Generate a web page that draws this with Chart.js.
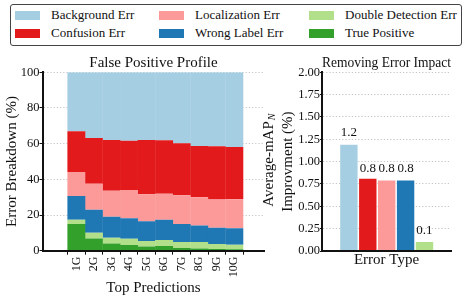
<!DOCTYPE html>
<html>
<head>
<meta charset="utf-8">
<script src="https://cdn.jsdelivr.net/npm/chart.js@4.4.1/dist/chart.umd.min.js"></script>
<style>
  html, body { margin: 0; padding: 0; background: #fff; }
  body { width: 467px; height: 302px; position: relative; overflow: hidden; font-family: "Liberation Serif", serif; }
  #legendBox { position: absolute; left: 9.5px; top: 4px; width: 452px; height: 41.5px; border: 1px solid #444; border-radius: 3px; box-sizing: border-box; }
  .swatch { position: absolute; width: 25px; height: 9px; }
  .legText { position: absolute; font-size: 13px; line-height: 14px; color: #111; white-space: nowrap; font-family: "Liberation Serif", serif; }
  #fpWrap { position: absolute; left: 0; top: 50px; width: 266px; height: 252px; }
  #impactWrap { position: absolute; left: 262px; top: 50px; width: 205px; height: 252px; }
</style>
</head>
<body>
<div id="legendBox"></div>
<div id="legendItems"></div>
<div id="fpWrap"><canvas id="fpChart"></canvas></div>
<div id="impactWrap"><canvas id="impactChart"></canvas></div>
<script>
// top-k predictions (x axis of the profile chart)
const topLabels = ['1G', '2G', '3G', '4G', '5G', '6G', '7G', '8G', '9G', '10G'];

// false positive profile, % of detections per error type
const truePositive    = [15.0, 6.8, 4.1, 3.2, 2.3, 2.6, 1.5, 1.3, 0.9, 0.8];
const doubleDetection = [2.3, 3.3, 3.2, 3.5, 3.1, 3.4, 3.4, 3.6, 2.9, 2.6];
const wrongLabel      = [13.3, 12.8, 11.7, 11.5, 11.1, 11.3, 10.1, 9.2, 9.1, 9.2];
const localization    = [13.5, 14.6, 14.6, 15.8, 15.2, 14.6, 16.1, 15.9, 15.8, 16.3];
const confusion       = [22.8, 25.7, 28.5, 27.7, 30.4, 30.0, 29.1, 28.7, 29.8, 29.2];
const background      = [33.1, 36.8, 37.9, 38.3, 37.9, 38.1, 39.8, 41.3, 41.5, 41.9];

// removing error impact (average-mAP_N improvement, %)
const errorTypes  = ['Background Err', 'Confusion Err', 'Localization Err', 'Wrong Label Err', 'Double Detection Err'];
const improvement = [1.19, 0.81, 0.79, 0.79, 0.10];

const colors = {
    'Background Err': '#a6cee3',
    'Confusion Err': '#e31a1c',
    'Localization Err': '#fb9a99',
    'Wrong Label Err': '#1f78b4',
    'Double Detection Err': '#b2df8a',
    'True Positive': '#33a02c'
};

const profile = {
    'True Positive': truePositive,
    'Double Detection Err': doubleDetection,
    'Wrong Label Err': wrongLabel,
    'Localization Err': localization,
    'Confusion Err': confusion,
    'Background Err': background
};
const stackOrder = ['True Positive', 'Double Detection Err', 'Wrong Label Err', 'Localization Err', 'Confusion Err', 'Background Err'];
const legendOrder = ['Background Err', 'Confusion Err', 'Localization Err', 'Wrong Label Err', 'Double Detection Err', 'True Positive'];

const serif = '"Liberation Serif", "Times New Roman", serif';
const ink = '#111';
Chart.defaults.font.family = serif;
Chart.defaults.color = ink;

// legend (3 columns x 2 rows, filled column by column)
const legCols = [15, 159, 309];
const legRows = [15, 33];
const legItems = document.getElementById('legendItems');
legendOrder.forEach((name, i) => {
    const col = Math.floor(i / 2), row = i % 2;
    const sw = document.createElement('div');
    sw.className = 'swatch';
    sw.style.left = legCols[col] + 'px';
    sw.style.top = (legRows[row] - 4.5) + 'px';
    sw.style.background = colors[name];
    legItems.appendChild(sw);
    const tx = document.createElement('div');
    tx.className = 'legText';
    tx.style.left = (legCols[col] + 36) + 'px';
    tx.style.top = (legRows[row] - 7) + 'px';
    tx.textContent = name;
    legItems.appendChild(tx);
});

const gridDots = { color: '#b5b5b5', dash: [1.2, 2] };

// Stacked profile
new Chart(document.getElementById('fpChart'), {
    type: 'bar',
    data: {
        datasets: stackOrder.map(name => ({
            label: name,
            data: profile[name].map((v, i) => ({ x: i + 1, y: v })),
            backgroundColor: colors[name],
            borderWidth: 0,
            barPercentage: 1.02,
            categoryPercentage: 1
        }))
    },
    options: {
        animation: false,
        responsive: true,
        maintainAspectRatio: false,
        layout: { padding: { left: 0, right: 2, top: 0, bottom: 0 } },
        plugins: {
            legend: { display: false },
            tooltip: { enabled: false },
            title: {
                display: true,
                text: 'False Positive Profile',
                fullSize: false,
                color: ink,
                font: { size: 15, weight: 'normal' },
                padding: { top: 4.3, bottom: 0 }
            }
        },
        scales: {
            x: {
                type: 'linear',
                stacked: true,
                min: -0.27,
                max: 11.06,
                afterBuildTicks: s => { s.ticks = topLabels.map((_, i) => ({ value: i + 1 })); },
                afterFit: s => { s.height = 51.3; },
                ticks: {
                    autoSkip: false,
                    minRotation: 90,
                    maxRotation: 90,
                    padding: 2,
                    font: { size: 12 },
                    callback: v => topLabels[v - 1]
                },
                grid: { drawOnChartArea: false, tickLength: 4, tickColor: ink, tickWidth: 1 },
                border: { color: ink, width: 2, z: 1 },
                title: {
                    display: true,
                    text: 'Top Predictions',
                    font: { size: 15 },
                    padding: { top: 0, bottom: 5 }
                }
            },
            y: {
                stacked: true,
                min: 0,
                max: 100,
                afterFit: s => { s.width = 43; },
                ticks: { stepSize: 10, padding: 0, font: { size: 12.5 } },
                grid: { color: gridDots.color, lineWidth: 0.8, tickLength: 3.5, tickColor: ink, tickWidth: 1 },
                border: { color: ink, width: 2, dash: gridDots.dash, z: 1 },
                title: {
                    display: true,
                    text: 'Error Breakdown (%)',
                    font: { size: 15 },
                    padding: { top: 3, bottom: 0 }
                }
            }
        }
    }
});

// value labels above the impact bars
const valueLabels = {
    id: 'valueLabels',
    afterDatasetsDraw(chart) {
        const ctx = chart.ctx;
        const meta = chart.getDatasetMeta(0);
        const yScale = chart.scales.y;
        ctx.save();
        ctx.font = '13px ' + serif;
        ctx.fillStyle = ink;
        ctx.textAlign = 'center';
        ctx.textBaseline = 'alphabetic';
        meta.data.forEach((bar, i) => {
            const txt = improvement[i].toFixed(1);
            ctx.fillText(txt, bar.x, yScale.getPixelForValue(Number(txt)) - 8);
        });
        ctx.restore();
    }
};

// two-line rotated y title with subscript N
const impactYTitle = {
    id: 'impactYTitle',
    afterDraw(chart) {
        const ctx = chart.ctx;
        const cy = (chart.chartArea.top + chart.chartArea.bottom) / 2;
        const main = 'Average-mAP';
        ctx.save();
        ctx.fillStyle = ink;
        ctx.textBaseline = 'middle';
        ctx.textAlign = 'left';
        ctx.translate(7, cy - 1);
        ctx.rotate(-Math.PI / 2);
        ctx.font = '15px ' + serif;
        const w1 = ctx.measureText(main).width;
        ctx.font = 'italic 10px ' + serif;
        const w2 = ctx.measureText('N').width;
        const x0 = -(w1 + w2) / 2;
        ctx.font = '15px ' + serif;
        ctx.fillText(main, x0, 0);
        ctx.font = 'italic 10px ' + serif;
        ctx.fillText('N', x0 + w1 + 1, 3);
        ctx.restore();

        ctx.save();
        ctx.fillStyle = ink;
        ctx.textBaseline = 'middle';
        ctx.textAlign = 'center';
        ctx.translate(26, cy);
        ctx.rotate(-Math.PI / 2);
        ctx.font = '15px ' + serif;
        ctx.fillText('Improvment (%)', 0, 0);
        ctx.restore();
    }
};

// Removing error impact
new Chart(document.getElementById('impactChart'), {
    type: 'bar',
    data: {
        datasets: [{
            label: 'Improvement',
            data: improvement.map((v, i) => ({ x: i + 1, y: v })),
            backgroundColor: errorTypes.map(n => colors[n]),
            borderWidth: 0,
            barPercentage: 0.92,
            categoryPercentage: 1
        }]
    },
    options: {
        animation: false,
        responsive: true,
        maintainAspectRatio: false,
        layout: { padding: { left: 0, right: 16, top: 0, bottom: 0 } },
        plugins: {
            legend: { display: false },
            tooltip: { enabled: false },
            title: {
                display: true,
                text: 'Removing Error Impact',
                fullSize: false,
                color: ink,
                font: { size: 15, weight: 'normal' },
                padding: { top: 4.3, bottom: 0 }
            }
        },
        scales: {
            x: {
                type: 'linear',
                min: 0.26,
                max: 5.72,
                afterBuildTicks: s => { s.ticks = errorTypes.map((_, i) => ({ value: i + 1 })); },
                afterFit: s => { s.height = 51; },
                ticks: { display: false },
                grid: { drawOnChartArea: false, drawTicks: false },
                border: { color: ink, width: 2, z: 1 },
                title: {
                    display: true,
                    text: 'Error Type',
                    font: { size: 15 },
                    padding: { top: 0, bottom: 33 }
                }
            },
            y: {
                min: 0,
                max: 2,
                afterFit: s => { s.width = 60; },
                ticks: { stepSize: 0.25, padding: 0, font: { size: 12.5 }, callback: v => v.toFixed(2) },
                grid: { color: gridDots.color, lineWidth: 0.8, tickLength: 2, tickColor: ink, tickWidth: 1 },
                border: { color: ink, width: 2, dash: gridDots.dash, z: 1 }
            }
        }
    },
    plugins: [valueLabels, impactYTitle]
});
</script>
</body>
</html>
